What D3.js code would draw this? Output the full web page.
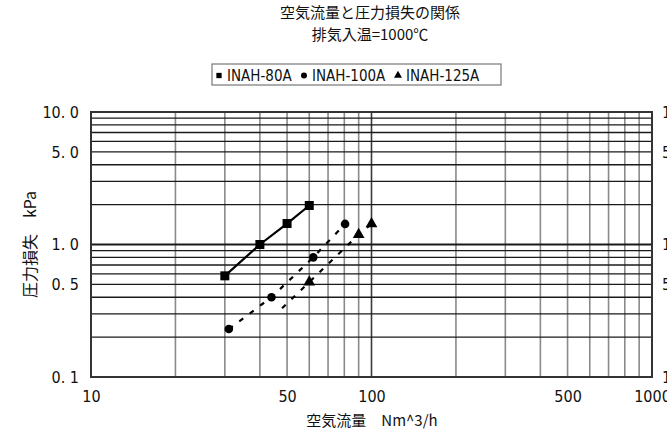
<!DOCTYPE html>
<html>
<head>
<meta charset="utf-8">
<script src="https://cdn.jsdelivr.net/npm/d3@7"></script>
<style>
  html, body { margin: 0; padding: 0; background: #fff; }
  svg { display: block; }
  .jp { font-family: "Noto Sans CJK JP", sans-serif; }
  .num { font-family: "Liberation Sans Narrow", "DejaVu Sans Condensed", "Liberation Sans", sans-serif; }
</style>
</head>
<body>
<svg id="chart" width="667" height="436"></svg>
<script>
// Air flow (Nm^3/h) vs pressure loss (kPa) for each model
const models = ["INAH-80A", "INAH-100A", "INAH-125A"];
const flow80 = [30, 40, 50, 60];
const loss80 = [0.58, 1.0, 1.44, 1.97];
const flow100 = [31, 44, 62, 80.5];
const loss100 = [0.23, 0.40, 0.80, 1.43];
const flow125 = [48, 60, 90, 100];
const loss125 = [0.33, 0.52, 1.19, 1.43];
const marked125 = [false, true, true, true];

const xTicks = [10, 50, 100, 500, 1000];
const xTickLabels = ["10", "50", "100", "500", "1000"];
const yTicks = [0.1, 0.5, 1, 5, 10];
const yTickLabels = ["0. 1", "0. 5", "1. 0", "5. 0", "10. 0"];
const yRightLabels = ["10", "50", "100", "500", "1000"];

const title = "空気流量と圧力損失の関係";
const subtitle = "排気入温=1000℃";
const xTitle = "空気流量　Nm^3/h";
const yTitle = "圧力損失　kPa";

const svg = d3.select("#chart");
const plot = { left: 91, right: 652, top: 112, bottom: 377 };

const x = d3.scaleLog().domain([10, 1000]).range([plot.left, plot.right]);
const y = d3.scaleLog().domain([0.1, 10]).range([plot.bottom, plot.top]);

// grid: minor decades
const xMinor = [];
const yMinor = [];
[10, 100].forEach(d => { for (let k = 2; k <= 9; k++) xMinor.push(d * k); });
[0.1, 1].forEach(d => { for (let k = 2; k <= 9; k++) yMinor.push(+(d * k).toFixed(2)); });

const grid = svg.append("g");
grid.selectAll(".vx").data(xMinor).enter().append("line")
  .attr("x1", d => x(d)).attr("x2", d => x(d))
  .attr("y1", plot.top).attr("y2", plot.bottom)
  .attr("stroke", "#8a8a8a").attr("stroke-width", 1.6);
grid.append("line")
  .attr("x1", x(100)).attr("x2", x(100))
  .attr("y1", plot.top).attr("y2", plot.bottom)
  .attr("stroke", "#3a3a3a").attr("stroke-width", 1.6);
grid.selectAll(".hy").data(yMinor).enter().append("line")
  .attr("x1", plot.left).attr("x2", plot.right)
  .attr("y1", d => y(d)).attr("y2", d => y(d))
  .attr("stroke", "#1a1a1a").attr("stroke-width", 1.3);
grid.append("line")
  .attr("x1", plot.left).attr("x2", plot.right)
  .attr("y1", y(1)).attr("y2", y(1))
  .attr("stroke", "#1a1a1a").attr("stroke-width", 2);

// frame
svg.append("rect")
  .attr("x", plot.left).attr("y", plot.top)
  .attr("width", plot.right - plot.left).attr("height", plot.bottom - plot.top)
  .attr("fill", "none").attr("stroke", "#333").attr("stroke-width", 2);

// tick labels via d3 axes (axis lines removed, only text kept)
const yAxisL = svg.append("g").attr("transform", `translate(${plot.left},0)`)
  .call(d3.axisLeft(y).tickValues(yTicks).tickFormat((d, i) => yTickLabels[i]).tickSize(0).tickPadding(12));
const yAxisR = svg.append("g").attr("transform", `translate(${plot.right},0)`)
  .call(d3.axisRight(y).tickValues(yTicks).tickFormat((d, i) => yRightLabels[i]).tickSize(0).tickPadding(10));
const xAxis = svg.append("g").attr("transform", `translate(0,${plot.bottom})`)
  .call(d3.axisBottom(x).tickValues(xTicks).tickFormat((d, i) => xTickLabels[i]).tickSize(0).tickPadding(14));
[yAxisL, yAxisR, xAxis].forEach(g => {
  g.select(".domain").remove();
  g.selectAll("text").attr("class", "num").attr("font-size", 16).attr("fill", "#111");
});

// series
const line = d3.line().x(d => x(d[0])).y(d => y(d[1]));
const s80 = flow80.map((f, i) => [f, loss80[i]]);
const s100 = flow100.map((f, i) => [f, loss100[i]]);
const s125 = flow125.map((f, i) => [f, loss125[i]]);

svg.append("path").datum(s80).attr("d", line)
  .attr("fill", "none").attr("stroke", "#000").attr("stroke-width", 2.2);
svg.append("path").datum(s100).attr("d", line)
  .attr("fill", "none").attr("stroke", "#000").attr("stroke-width", 2.2)
  .attr("stroke-dasharray", "5,8");
svg.append("path").datum(s125).attr("d", line)
  .attr("fill", "none").attr("stroke", "#000").attr("stroke-width", 2.2)
  .attr("stroke-dasharray", "5,8");

svg.selectAll(".sq").data(s80).enter().append("rect")
  .attr("x", d => x(d[0]) - 4.5).attr("y", d => y(d[1]) - 4.5)
  .attr("width", 9).attr("height", 9).attr("fill", "#000");
svg.selectAll(".ci").data(s100).enter().append("circle")
  .attr("cx", d => x(d[0])).attr("cy", d => y(d[1])).attr("r", 4.3).attr("fill", "#000");
const tri = d3.symbol().type(d3.symbolTriangle).size(60);
svg.selectAll(".tr").data(s125.filter((d, i) => marked125[i])).enter().append("path")
  .attr("d", tri)
  .attr("transform", d => `translate(${x(d[0])},${y(d[1])})`).attr("fill", "#000");

// two-line title
svg.append("text").attr("class", "jp").attr("text-anchor", "middle")
  .attr("x", 370).attr("y", 18).attr("font-size", 15).attr("fill", "#111").text(title);
svg.append("text").attr("class", "jp").attr("text-anchor", "middle")
  .attr("x", 370).attr("y", 40).attr("font-size", 15).attr("fill", "#111").text(subtitle);

svg.append("text").attr("class", "jp").attr("x", 372).attr("y", 426)
  .attr("text-anchor", "middle").attr("font-size", 15).attr("fill", "#111").text(xTitle);
svg.append("text").attr("class", "jp")
  .attr("transform", `translate(36,${y(1)}) rotate(-90)`)
  .attr("text-anchor", "middle").attr("font-size", 16).attr("fill", "#111").text(yTitle);

// legend
const lg = svg.append("g").attr("transform", "translate(212,64)");
lg.append("rect").attr("x", 0).attr("y", 0).attr("width", 289).attr("height", 21)
  .attr("fill", "#fff").attr("stroke", "#777").attr("stroke-width", 1.2);
const items = [
  { name: models[0], sym: d3.symbolSquare, x: 7 },
  { name: models[1], sym: d3.symbolCircle, x: 92 },
  { name: models[2], sym: d3.symbolTriangle, x: 186 }
];
items.forEach(it => {
  lg.append("path").attr("d", d3.symbol().type(it.sym).size(28))
    .attr("transform", `translate(${it.x},11.5)`).attr("fill", "#000");
  lg.append("text").attr("class", "num").attr("x", it.x + 8).attr("y", 16.5)
    .attr("font-size", 15).attr("fill", "#111").text(it.name);
});
</script>
</body>
</html>
